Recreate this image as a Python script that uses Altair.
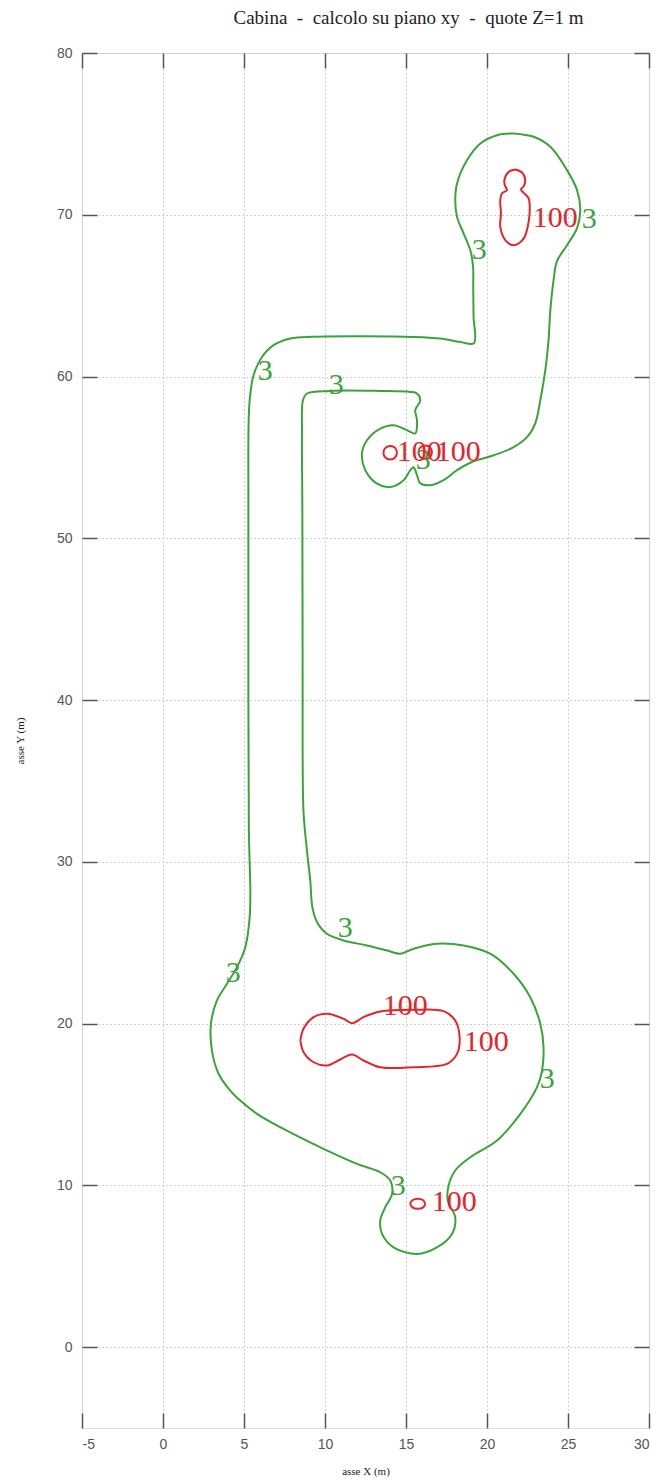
import altair as alt
import pandas as pd

# Isoline at level 3 (one closed loop), coordinates in metres
green_x = [21.64, 22.88, 23.91, 24.94, 25.56, 25.76, 25.56, 24.94, 24.32, 24.11,
           23.91, 23.80, 23.60, 23.29, 22.98, 22.47, 21.64, 20.41, 19.17, 18.15,
           17.32, 16.50, 15.88, 15.68, 15.47, 15.27, 14.85, 14.03, 13.21, 12.49,
           12.28, 12.59, 13.41, 14.23, 15.06, 15.57, 15.68, 15.57, 15.88, 15.68,
           15.27, 13.41, 10.33, 8.89, 8.64, 8.58, 8.60, 8.62, 8.62, 8.68,
           8.93, 9.09, 9.22, 9.51, 10.12, 11.15, 12.59, 13.83, 14.65, 15.47,
           16.91, 18.56, 20.20, 21.64, 22.67, 23.29, 23.49, 23.40, 23.09, 22.06,
           20.62, 18.97, 18.04, 17.63, 17.58, 18.04, 17.84, 16.91, 15.68, 14.23,
           13.52, 13.41, 13.72, 14.14, 14.03, 13.41, 11.98, 9.91, 7.44, 5.80,
           4.77, 4.15, 3.43, 3.02, 2.96, 3.33, 3.95, 4.57, 5.08, 5.35,
           5.39, 5.30, 5.27, 5.27, 5.28, 5.35, 5.59, 6.11, 6.83, 7.86,
           9.30, 12.38, 15.47, 17.12, 18.35, 19.19, 19.17, 19.15, 19.14, 18.97,
           18.56, 18.15, 18.04, 18.15, 18.77, 19.59, 20.62, 21.64]
green_y = [75.03, 74.82, 74.20, 72.76, 71.52, 70.29, 69.17, 68.12, 67.13, 65.96,
           64.10, 62.25, 60.39, 58.53, 57.11, 56.25, 55.63, 55.13, 54.76, 54.21,
           53.59, 53.28, 53.40, 53.90, 54.39, 54.21, 53.59, 53.17, 53.38, 54.21,
           55.24, 56.06, 56.78, 56.99, 56.68, 56.48, 57.30, 57.92, 58.53, 58.95,
           59.05, 59.11, 59.11, 58.95, 58.53, 56.49, 52.00, 40.00, 36.70, 32.99,
           30.29, 28.85, 27.20, 26.27, 25.55, 25.14, 24.83, 24.52, 24.32, 24.63,
           24.94, 24.83, 24.32, 23.08, 21.63, 19.99, 18.54, 17.10, 16.07, 14.42,
           12.77, 11.74, 10.92, 9.99, 9.06, 8.03, 7.00, 6.17, 5.76, 6.17,
           7.00, 7.82, 8.65, 9.47, 10.30, 10.81, 11.33, 12.26, 13.49, 14.42,
           15.24, 15.86, 16.90, 18.34, 19.99, 21.43, 22.46, 23.49, 24.72, 26.58,
           28.23, 32.00, 48.00, 52.35, 56.88, 58.53, 60.08, 61.21, 61.94, 62.35,
           62.46, 62.49, 62.45, 62.35, 62.14, 62.06, 63.69, 65.52, 66.78, 67.81,
           68.84, 69.87, 70.90, 71.94, 73.38, 74.41, 74.92, 75.03]

# Isolines at level 100
red_top_x = [21.75, 22.18, 22.36, 22.27, 22.10, 22.25, 22.57, 22.63, 22.51, 22.26,
             21.64, 21.13, 20.82, 20.86, 20.82, 20.93, 21.23, 21.10, 21.07, 21.33, 21.75]
red_top_y = [72.80, 72.60, 72.14, 71.77, 71.57, 71.37, 71.01, 70.08, 69.25, 68.53,
             68.12, 68.43, 69.25, 70.08, 70.90, 71.33, 71.52, 71.83, 72.14, 72.65, 72.80]

red_mid_a_x = [14.45, 14.33, 14.03, 13.73, 13.61, 13.73, 14.03, 14.33, 14.45]
red_mid_a_y = [55.29, 55.59, 55.71, 55.59, 55.29, 54.99, 54.87, 54.99, 55.29]

red_mid_b_x = [16.61, 16.49, 16.19, 15.89, 15.77, 15.89, 16.19, 16.49, 16.61]
red_mid_b_y = [55.32, 55.62, 55.74, 55.62, 55.32, 55.02, 54.90, 55.02, 55.32]

red_low_x = [8.48, 8.68, 9.30, 10.12, 11.15, 11.67, 12.38, 13.41, 15.47, 17.32,
             18.04, 18.31, 18.15, 17.53, 15.47, 13.41, 12.38, 11.67, 10.94, 10.12,
             9.30, 8.68, 8.48]
red_low_y = [18.95, 19.70, 20.40, 20.61, 20.30, 20.02, 20.40, 20.75, 20.85, 20.77,
             20.19, 19.16, 18.13, 17.51, 17.30, 17.30, 17.72, 18.09, 17.78, 17.41,
             17.61, 18.23, 18.95]

red_dot_x = [16.19, 16.06, 15.73, 15.40, 15.27, 15.40, 15.73, 16.06, 16.19]
red_dot_y = [8.86, 9.08, 9.17, 9.08, 8.86, 8.64, 8.55, 8.64, 8.86]

# Inline level labels
green_lab_x = [19.52, 26.31, 6.31, 10.70, 16.07, 11.25, 4.34, 23.72, 14.52]
green_lab_y = [67.81, 69.73, 60.33, 59.46, 54.82, 25.88, 23.10, 16.60, 9.93]
red_lab_x = [24.22, 15.82, 18.23, 14.96, 19.96, 17.98]
red_lab_y = [69.79, 55.32, 55.32, 21.06, 18.89, 9.00]

x_ticks = [-5, 0, 5, 10, 15, 20, 25, 30]
y_ticks = [0, 10, 20, 30, 40, 50, 60, 70, 80]

GREEN = "#3ba33b"
RED = "#e2262b"
NB = "\u00a0"
TITLE = f"Cabina{NB}{NB}-{NB}{NB}calcolo su piano xy{NB}{NB}-{NB}{NB}quote Z=1 m"

paths = [
    ("g", "3", green_x, green_y),
    ("r1", "100", red_top_x, red_top_y),
    ("r2", "100", red_mid_a_x, red_mid_a_y),
    ("r3", "100", red_mid_b_x, red_mid_b_y),
    ("r4", "100", red_low_x, red_low_y),
    ("r5", "100", red_dot_x, red_dot_y),
]
rows = []
for pid, lvl, xs, ys in paths:
    for i, (a, b) in enumerate(zip(xs, ys)):
        rows.append({"x": a, "y": b, "i": i, "path": pid, "level": lvl})
lines_df = pd.DataFrame(rows)

labels_df = pd.DataFrame(
    [{"x": a, "y": b, "level": "3", "txt": "3"} for a, b in zip(green_lab_x, green_lab_y)]
    + [{"x": a, "y": b, "level": "100", "txt": "100"} for a, b in zip(red_lab_x, red_lab_y)]
)

xscale = alt.Scale(domain=[-5, 30], nice=False, zero=False)
yscale = alt.Scale(domain=[-5, 80], nice=False, zero=False)
cscale = alt.Scale(domain=["3", "100"], range=[GREEN, RED])

grid_style = dict(grid=True, gridDash=[1.5, 2.5], gridColor="#c4c4c4", gridWidth=1)
tick_style = dict(tickSize=15, tickColor="#555555", tickWidth=1.5, offset=-15, domain=False)
plain_label = "'' + datum.value"

x_bottom = alt.Axis(values=x_ticks, orient="bottom", labelFont="Liberation Sans",
                    labelFontSize=14, labelColor="#555555", labelPadding=9,
                    labelExpr=plain_label,
                    title="asse X (m)", titleFont="Liberation Serif", titleFontSize=11,
                    titleFontWeight="normal", titleColor="#222222", titlePadding=14,
                    **grid_style, **tick_style)
y_left = alt.Axis(values=y_ticks, orient="left", labelFont="Liberation Sans",
                  labelFontSize=14, labelColor="#555555", labelPadding=10,
                  labelExpr=plain_label,
                  title="asse Y (m)", titleFont="Liberation Serif", titleFontSize=11,
                  titleFontWeight="normal", titleColor="#222222", titlePadding=31,
                  **grid_style, **tick_style)
x_top = alt.Axis(values=x_ticks, orient="top", labels=False, title=None, grid=False, **tick_style)
y_right = alt.Axis(values=y_ticks, orient="right", labels=False, title=None, grid=False, **tick_style)

lines = alt.Chart(lines_df).mark_line(strokeWidth=2, interpolate="catmull-rom").encode(
    x=alt.X("x:Q", scale=xscale, axis=x_bottom),
    y=alt.Y("y:Q", scale=yscale, axis=y_left),
    order="i:Q",
    detail="path:N",
    color=alt.Color("level:N", scale=cscale, legend=None),
)

labels = alt.Chart(labels_df).mark_text(font="Liberation Serif", fontSize=30).encode(
    x=alt.X("x:Q", scale=xscale, axis=x_top),
    y=alt.Y("y:Q", scale=yscale, axis=y_right),
    text="txt:N",
    color=alt.Color("level:N", scale=cscale, legend=None),
)

chart = alt.layer(lines, labels).resolve_axis(x="independent", y="independent").properties(
    width=567,
    height=1375,
    autosize=alt.AutoSizeParams(type="none"),
    padding={"left": 82, "top": 53, "right": 10, "bottom": 55},
    title=alt.TitleParams(TITLE, font="Liberation Serif", fontSize=19, fontWeight="normal",
                          color="#222222", anchor="middle", offset=18, dx=43),
).configure_view(stroke="#555555", strokeWidth=1.5).configure(background="white")

chart.save("out.html", embed_options={"renderer": "svg", "actions": False})
